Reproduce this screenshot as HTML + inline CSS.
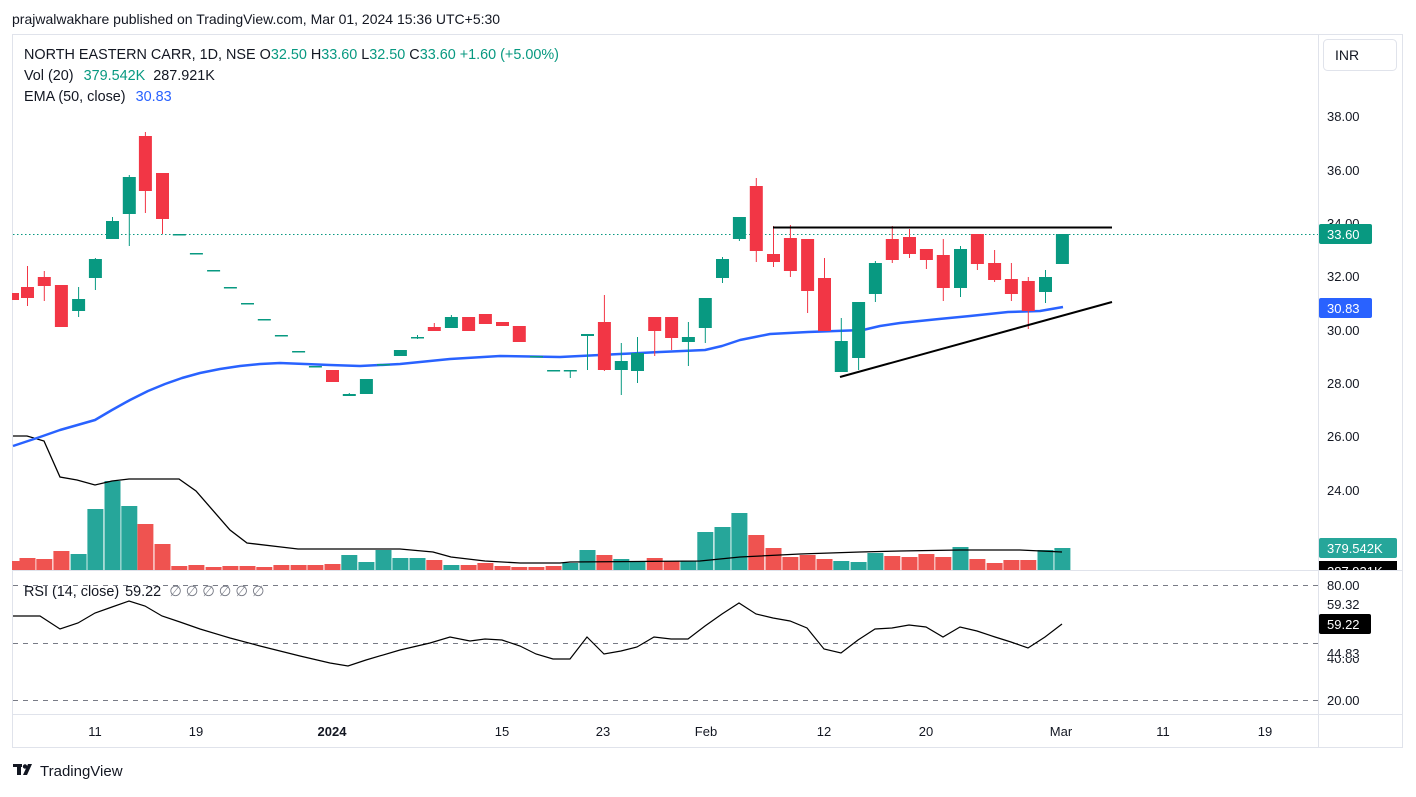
<!DOCTYPE html>
<html><head><meta charset="utf-8"><style>
body{margin:0;width:1416px;height:792px;background:#fff;overflow:hidden;font-family:"Liberation Sans",sans-serif;}
</style></head><body>
<svg width="1416" height="792" xmlns="http://www.w3.org/2000/svg" font-family="Liberation Sans, sans-serif">
<rect width="1416" height="792" fill="#fff"/>
<text x="12" y="24" font-size="14" fill="#131722">prajwalwakhare published on TradingView.com, Mar 01, 2024 15:36 UTC+5:30</text>
<rect x="12.5" y="34.5" width="1390" height="713" fill="none" stroke="#e0e3eb"/>
<line x1="1318.5" y1="34" x2="1318.5" y2="748" stroke="#e0e3eb"/>
<line x1="12" y1="570.5" x2="1402" y2="570.5" stroke="#e0e3eb"/>
<line x1="12" y1="714.5" x2="1402" y2="714.5" stroke="#e0e3eb"/>
<rect x="1323.5" y="39.5" width="73" height="31" rx="4" fill="#fff" stroke="#e0e3eb"/>
<text x="1335" y="60" font-size="14" fill="#131722">INR</text>
<g font-size="14.4">
<text x="24" y="59" fill="#131722">NORTH EASTERN CARR, 1D, NSE <tspan fill="#131722">O</tspan><tspan fill="#089981">32.50</tspan> H<tspan fill="#089981">33.60</tspan> L<tspan fill="#089981">32.50</tspan> C<tspan fill="#089981">33.60</tspan> <tspan fill="#089981">+1.60 (+5.00%)</tspan></text>
<text x="24" y="80" fill="#131722">Vol (20) <tspan fill="#089981" dx="6">379.542K</tspan> <tspan fill="#131722" dx="4">287.921K</tspan></text>
<text x="24" y="101" fill="#131722">EMA (50, close) <tspan fill="#2962ff" dx="6">30.83</tspan></text>
<text x="24" y="596" fill="#131722">RSI (14, close) <tspan dx="2">59.22</tspan> <tspan fill="#787b86" dx="4">∅  ∅  ∅  ∅  ∅  ∅</tspan></text>
</g>
<g font-size="13" fill="#131722">
<text x="1327" y="121">38.00</text><text x="1327" y="175">36.00</text><text x="1327" y="228">34.00</text>
<text x="1327" y="281">32.00</text><text x="1327" y="335">30.00</text><text x="1327" y="388">28.00</text>
<text x="1327" y="441">26.00</text><text x="1327" y="495">24.00</text>
<text x="1327" y="590">80.00</text><text x="1327" y="609">59.32</text><text x="1327" y="705">20.00</text>
<text x="1327" y="663">40.00</text>
<rect x="1320" y="645" width="50" height="13" fill="#fff"/>
<text x="1327" y="658">44.83</text>
</g>
<line x1="13" y1="234.5" x2="1318" y2="234.5" stroke="#089981" stroke-dasharray="1.5 2.5"/>
<g stroke="#787b86" stroke-dasharray="5 5" stroke-width="1">
<line x1="13" y1="585.5" x2="1318" y2="585.5"/>
<line x1="13" y1="643.5" x2="1318" y2="643.5"/>
<line x1="13" y1="700.5" x2="1318" y2="700.5"/>
</g>
<g>
<rect x="12" y="561" width="10" height="9" fill="#ef5350"/>
<rect x="19.5" y="558" width="16" height="12" fill="#ef5350"/>
<rect x="36.3" y="559" width="16" height="11" fill="#ef5350"/>
<rect x="53.4" y="551" width="16" height="19" fill="#ef5350"/>
<rect x="70.6" y="554" width="16" height="16" fill="#26a69a"/>
<rect x="87.4" y="509" width="16" height="61" fill="#26a69a"/>
<rect x="104.5" y="481" width="16" height="89" fill="#26a69a"/>
<rect x="121.3" y="506" width="16" height="64" fill="#26a69a"/>
<rect x="137.4" y="524" width="16" height="46" fill="#ef5350"/>
<rect x="154.5" y="544" width="16" height="26" fill="#ef5350"/>
<rect x="171.3" y="566" width="16" height="4" fill="#ef5350"/>
<rect x="188.4" y="565" width="16" height="5" fill="#ef5350"/>
<rect x="205.6" y="567" width="16" height="3" fill="#ef5350"/>
<rect x="222.4" y="566" width="16" height="4" fill="#ef5350"/>
<rect x="239.5" y="566" width="16" height="4" fill="#ef5350"/>
<rect x="256.3" y="567" width="16" height="3" fill="#ef5350"/>
<rect x="273.4" y="565" width="16" height="5" fill="#ef5350"/>
<rect x="290.6" y="565" width="16" height="5" fill="#ef5350"/>
<rect x="307.4" y="565" width="16" height="5" fill="#ef5350"/>
<rect x="324.5" y="564" width="16" height="6" fill="#ef5350"/>
<rect x="341.3" y="555" width="16" height="15" fill="#26a69a"/>
<rect x="358.4" y="562" width="16" height="8" fill="#26a69a"/>
<rect x="375.5" y="550" width="16" height="20" fill="#26a69a"/>
<rect x="392.4" y="558" width="16" height="12" fill="#26a69a"/>
<rect x="409.5" y="558" width="16" height="12" fill="#26a69a"/>
<rect x="426.3" y="560" width="16" height="10" fill="#ef5350"/>
<rect x="443.4" y="565" width="16" height="5" fill="#26a69a"/>
<rect x="460.6" y="565" width="16" height="5" fill="#ef5350"/>
<rect x="477.4" y="563" width="16" height="7" fill="#ef5350"/>
<rect x="494.5" y="566" width="16" height="4" fill="#ef5350"/>
<rect x="511.3" y="567" width="16" height="3" fill="#ef5350"/>
<rect x="528.4" y="567" width="16" height="3" fill="#ef5350"/>
<rect x="545.6" y="566" width="16" height="4" fill="#ef5350"/>
<rect x="562.3" y="563" width="16" height="7" fill="#26a69a"/>
<rect x="579.5" y="550" width="16" height="20" fill="#26a69a"/>
<rect x="596.4" y="555" width="16" height="15" fill="#ef5350"/>
<rect x="613.3" y="559" width="16" height="11" fill="#26a69a"/>
<rect x="629.5" y="562" width="16" height="8" fill="#26a69a"/>
<rect x="646.7" y="558" width="16" height="12" fill="#ef5350"/>
<rect x="663.6" y="561" width="16" height="9" fill="#ef5350"/>
<rect x="680.4" y="561" width="16" height="9" fill="#26a69a"/>
<rect x="697.3" y="532" width="16" height="38" fill="#26a69a"/>
<rect x="714.5" y="527" width="16" height="43" fill="#26a69a"/>
<rect x="731.4" y="513" width="16" height="57" fill="#26a69a"/>
<rect x="748.3" y="535" width="16" height="35" fill="#ef5350"/>
<rect x="765.5" y="548" width="16" height="22" fill="#ef5350"/>
<rect x="782.4" y="557" width="16" height="13" fill="#ef5350"/>
<rect x="799.6" y="555" width="16" height="15" fill="#ef5350"/>
<rect x="816.5" y="559" width="16" height="11" fill="#ef5350"/>
<rect x="833.3" y="561" width="16" height="9" fill="#26a69a"/>
<rect x="850.6" y="562" width="16" height="8" fill="#26a69a"/>
<rect x="867.4" y="553" width="16" height="17" fill="#26a69a"/>
<rect x="884.3" y="556" width="16" height="14" fill="#ef5350"/>
<rect x="901.5" y="557" width="16" height="13" fill="#ef5350"/>
<rect x="918.4" y="554" width="16" height="16" fill="#ef5350"/>
<rect x="935.3" y="557" width="16" height="13" fill="#ef5350"/>
<rect x="952.5" y="547" width="16" height="23" fill="#26a69a"/>
<rect x="969.4" y="559" width="16" height="11" fill="#ef5350"/>
<rect x="986.6" y="563" width="16" height="7" fill="#ef5350"/>
<rect x="1003.4" y="560" width="16" height="10" fill="#ef5350"/>
<rect x="1020.3" y="560" width="16" height="10" fill="#ef5350"/>
<rect x="1037.5" y="550" width="16" height="20" fill="#26a69a"/>
<rect x="1054.4" y="548" width="16" height="22" fill="#26a69a"/>
</g>
<polyline fill="none" stroke="#000" stroke-width="1.3" points="13,436 27,436 44,441 60,477 77,480 95,485 112,481 129,479 162,479 179,479 196,491 230,530 247,543 281,547 298,549 350,549 400,549 433,552 451,557 485,561 520,563 560,563 570,562 700,561 740,557 800,554 860,552 900,551 960,550 1020,550 1062,552"/>
<polyline fill="none" stroke="#2962ff" stroke-width="2.5" stroke-linejoin="round" points="13,446 40,437 60,430 95,420 112,410 130,400 148,391 165,384 182,378 200,373 220,369 240,366 260,364 280,363 305,364 330,365 360,366 400,364 450,359 500,356 560,357 620,354 660,352 705,350 722,346 740,340 755,337 770,334 808,332 863,330 880,326 900,323 939,319 970,316 1008,312 1040,311 1063,307"/>
<g stroke-width="1">
<rect x="12" y="293" width="7" height="7" fill="#f23645"/>
<g fill="#f23645" stroke="#f23645">
<line x1="27.5" y1="266" x2="27.5" y2="306"/><rect x="21" y="287" width="13" height="11" stroke="none"/>
<line x1="44.3" y1="271" x2="44.3" y2="301"/><rect x="37.8" y="277" width="13" height="9" stroke="none"/>
<rect x="54.9" y="285" width="13" height="42" stroke="none"/>
<line x1="145.4" y1="132" x2="145.4" y2="213"/><rect x="138.9" y="136" width="13" height="55" stroke="none"/>
<line x1="162.5" y1="173" x2="162.5" y2="234"/><rect x="156" y="173" width="13" height="46" stroke="none"/>
<rect x="326" y="370" width="13" height="12" stroke="none"/>
<line x1="434.3" y1="323" x2="434.3" y2="331"/><rect x="427.8" y="327" width="13" height="4" stroke="none"/>
<rect x="462.1" y="317" width="13" height="14" stroke="none"/>
<rect x="478.9" y="314" width="13" height="10" stroke="none"/>
<rect x="496" y="322" width="13" height="4" stroke="none"/>
<rect x="512.8" y="326" width="13" height="16" stroke="none"/>
<line x1="604.4" y1="295" x2="604.4" y2="371"/><rect x="597.9" y="322" width="13" height="48" stroke="none"/>
<line x1="654.7" y1="317" x2="654.7" y2="356"/><rect x="648.2" y="317" width="13" height="14" stroke="none"/>
<line x1="671.6" y1="317" x2="671.6" y2="350"/><rect x="665.1" y="317" width="13" height="21" stroke="none"/>
<line x1="756.3" y1="178" x2="756.3" y2="262"/><rect x="749.8" y="186" width="13" height="65" stroke="none"/>
<line x1="773.5" y1="226" x2="773.5" y2="267"/><rect x="767" y="254" width="13" height="8" stroke="none"/>
<line x1="790.4" y1="225" x2="790.4" y2="277"/><rect x="783.9" y="238" width="13" height="33" stroke="none"/>
<line x1="807.6" y1="239" x2="807.6" y2="313"/><rect x="801.1" y="239" width="13" height="52" stroke="none"/>
<line x1="824.5" y1="258" x2="824.5" y2="331"/><rect x="818" y="278" width="13" height="53" stroke="none"/>
<line x1="892.3" y1="226" x2="892.3" y2="263"/><rect x="885.8" y="239" width="13" height="21" stroke="none"/>
<line x1="909.5" y1="229" x2="909.5" y2="258"/><rect x="903" y="237" width="13" height="17" stroke="none"/>
<line x1="926.4" y1="249" x2="926.4" y2="269"/><rect x="919.9" y="249" width="13" height="11" stroke="none"/>
<line x1="943.3" y1="239" x2="943.3" y2="301"/><rect x="936.8" y="255" width="13" height="33" stroke="none"/>
<line x1="977.4" y1="234" x2="977.4" y2="270"/><rect x="970.9" y="234" width="13" height="30" stroke="none"/>
<line x1="994.6" y1="250" x2="994.6" y2="282"/><rect x="988.1" y="263" width="13" height="17" stroke="none"/>
<line x1="1011.4" y1="263" x2="1011.4" y2="301"/><rect x="1004.9" y="279" width="13" height="15" stroke="none"/>
<line x1="1028.3" y1="277" x2="1028.3" y2="329"/><rect x="1021.8" y="281" width="13" height="30" stroke="none"/>
</g>
<g fill="#089981" stroke="#089981">
<line x1="78.6" y1="287" x2="78.6" y2="317"/><rect x="72.1" y="299" width="13" height="12" stroke="none"/>
<line x1="95.4" y1="258" x2="95.4" y2="290"/><rect x="88.9" y="259" width="13" height="19" stroke="none"/>
<line x1="112.5" y1="217" x2="112.5" y2="239"/><rect x="106" y="221" width="13" height="18" stroke="none"/>
<line x1="129.3" y1="175" x2="129.3" y2="246"/><rect x="122.8" y="177" width="13" height="37" stroke="none"/>
<rect x="172.8" y="234" width="13" height="1.5" stroke="none"/>
<rect x="189.9" y="253" width="13" height="1.5" stroke="none"/>
<rect x="207.1" y="270" width="13" height="1.5" stroke="none"/>
<rect x="223.9" y="287" width="13" height="1.5" stroke="none"/>
<rect x="241" y="303" width="13" height="1.5" stroke="none"/>
<rect x="257.8" y="319" width="13" height="1.5" stroke="none"/>
<rect x="274.9" y="335" width="13" height="1.5" stroke="none"/>
<rect x="292.1" y="351" width="13" height="1.5" stroke="none"/>
<rect x="308.9" y="366" width="13" height="1.5" stroke="none"/>
<line x1="349.3" y1="393" x2="349.3" y2="396"/><rect x="342.8" y="394" width="13" height="2" stroke="none"/>
<rect x="359.9" y="379" width="13" height="15" stroke="none"/>
<rect x="377" y="364" width="13" height="1.5" stroke="none"/>
<rect x="393.9" y="350" width="13" height="6" stroke="none"/>
<line x1="417.5" y1="335" x2="417.5" y2="339"/><rect x="411" y="337" width="13" height="1.5" stroke="none"/>
<line x1="451.4" y1="315" x2="451.4" y2="328"/><rect x="444.9" y="317" width="13" height="11" stroke="none"/>
<rect x="529.9" y="356" width="13" height="1.5" stroke="none"/>
<rect x="547.1" y="370" width="13" height="1.5" stroke="none"/>
<line x1="570.3" y1="370" x2="570.3" y2="378"/><rect x="563.8" y="370" width="13" height="1.5" stroke="none"/>
<line x1="587.5" y1="335" x2="587.5" y2="370"/><rect x="581" y="334" width="13" height="2" stroke="none"/>
<line x1="621.3" y1="343" x2="621.3" y2="395"/><rect x="614.8" y="361" width="13" height="9" stroke="none"/>
<line x1="637.5" y1="337" x2="637.5" y2="383"/><rect x="631" y="353" width="13" height="18" stroke="none"/>
<line x1="688.4" y1="322" x2="688.4" y2="366"/><rect x="681.9" y="337" width="13" height="5" stroke="none"/>
<line x1="705.3" y1="298" x2="705.3" y2="343"/><rect x="698.8" y="298" width="13" height="30" stroke="none"/>
<line x1="722.5" y1="257" x2="722.5" y2="283"/><rect x="716" y="259" width="13" height="19" stroke="none"/>
<line x1="739.4" y1="217" x2="739.4" y2="241"/><rect x="732.9" y="217" width="13" height="22" stroke="none"/>
<line x1="841.3" y1="318" x2="841.3" y2="372"/><rect x="834.8" y="341" width="13" height="31" stroke="none"/>
<line x1="858.6" y1="302" x2="858.6" y2="370"/><rect x="852.1" y="302" width="13" height="56" stroke="none"/>
<line x1="875.4" y1="261" x2="875.4" y2="302"/><rect x="868.9" y="263" width="13" height="31" stroke="none"/>
<line x1="960.5" y1="246" x2="960.5" y2="297"/><rect x="954" y="249" width="13" height="39" stroke="none"/>
<line x1="1045.5" y1="270" x2="1045.5" y2="303"/><rect x="1039" y="277" width="13" height="15" stroke="none"/>
<rect x="1055.9" y="234" width="13" height="30" stroke="none"/>
</g>
</g>
<line x1="773" y1="227.5" x2="1112" y2="227.5" stroke="#000" stroke-width="2"/>
<line x1="840" y1="377" x2="1112" y2="302" stroke="#000" stroke-width="2"/>
<polyline fill="none" stroke="#000" stroke-width="1.2" points="13,616 40,616 60,629 78,623 95,613 112,607 129,601 145,606 162,616 180,622 200,629 230,638 260,646 300,656 330,663 348,666 366,660 400,650 430,643 450,637 470,641 485,639 502,640 520,646 536,654 553,659 570,659 587,637 604,654 621,651 637,647 654,637 671,639 688,639 705,626 722,614 739,603 756,614 773,618 790,621 807,628 824,649 841,653 858,640 875,629 892,628 909,625 926,627 943,637 960,627 977,631 995,637 1011,642 1028,648 1045,637 1062,624"/>
<rect x="1319" y="224" width="53" height="20" rx="2" fill="#089981"/><text x="1327" y="239" font-size="13" fill="#fff">33.60</text>
<rect x="1319" y="298" width="53" height="20" rx="2" fill="#2962ff"/><text x="1327" y="313" font-size="13" fill="#fff">30.83</text>
<rect x="1319" y="561" width="78" height="9" fill="#000"/>
<clipPath id="c1"><rect x="1319" y="561" width="80" height="9"/></clipPath>
<text x="1327" y="576" font-size="13" fill="#fff" clip-path="url(#c1)">287.921K</text>
<rect x="1319" y="538" width="78" height="20" rx="2" fill="#26a69a"/><text x="1327" y="553" font-size="13" fill="#fff">379.542K</text>
<rect x="1319" y="614" width="52" height="20" rx="2" fill="#000"/><text x="1327" y="629" font-size="13" fill="#fff">59.22</text>
<g font-size="13" fill="#131722" text-anchor="middle">
<text x="95" y="736">11</text><text x="196" y="736">19</text><text x="332" y="736" font-weight="bold">2024</text>
<text x="502" y="736">15</text><text x="603" y="736">23</text><text x="706" y="736">Feb</text>
<text x="824" y="736">12</text><text x="926" y="736">20</text><text x="1061" y="736">Mar</text>
<text x="1163" y="736">11</text><text x="1265" y="736">19</text>
</g>
<g fill="#131722">
<rect x="13" y="764" width="9" height="3"/><rect x="17" y="764" width="4" height="11"/>
<circle cx="25" cy="766.5" r="2.2"/><path d="M28 764 h4 l-5 11 h-4z"/>
</g>
<text x="40" y="776" font-size="15" fill="#131722">TradingView</text>
</svg>
</body></html>
